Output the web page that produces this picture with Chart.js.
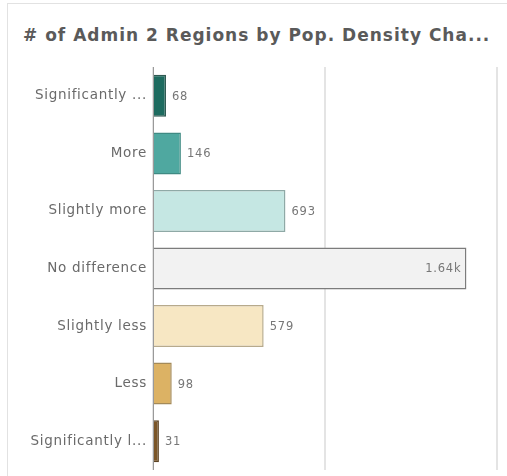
<!DOCTYPE html>
<html>
<head>
<meta charset="utf-8">
<script src="https://cdn.jsdelivr.net/npm/chart.js@4"></script>
<style>
    html, body { margin: 0; padding: 0; background: #fff; overflow: hidden; width: 507px; height: 476px; }
    #card {
        position: absolute;
        left: 7px;
        top: 3px;
        width: 510px;
        height: 490px;
        border-left: 1px solid #e2e2e2;
        border-top: 1px solid #e2e2e2;
    }
    #title {
        position: absolute;
        left: 15px;
        top: 21px;
        font-family: "DejaVu Sans";
        font-weight: bold;
        font-size: 17px;
        letter-spacing: 1px;
        color: #5a5a5a;
        white-space: nowrap;
    }
    #wrap { position: absolute; left: 0; top: 49px; width: 500px; height: 431px; }
</style>
</head>
<body>
<div id="card">
    <div id="title"># of Admin 2 Regions by Pop. Density Cha...</div>
    <div id="wrap"><canvas id="chart"></canvas></div>
</div>
<script>
const categories = ["Significantly ...", "More", "Slightly more", "No difference", "Slightly less", "Less", "Significantly l..."]
const regionCounts = [68, 146, 693, 1640, 579, 98, 31]
const valueLabels = ["68", "146", "693", "1.64k", "579", "98", "31"]
const xTicks = [0, 900, 1800]

const fillColors = ["#1d6b5f", "#4fa8a0", "#c5e7e3", "#f2f2f2", "#f7e7c3", "#dcb264", "#7b5628"]
const edgeColors = ["#2f5a52", "#3f8a83", "#8fa9a6", "#7c7c7c", "#b7aa8c", "#a48a58", "#5c4424"]

// spread the axis text a little, like the original
const spacingPlugin = {
    id: "spacing",
    beforeDraw(chart) { chart.ctx.letterSpacing = "0.7px" },
    afterDraw(chart) { chart.ctx.letterSpacing = "0px" }
}

const valueLabelPlugin = {
    id: "valueLabels",
    afterDatasetsDraw(chart) {
        const ctx = chart.ctx
        const meta = chart.getDatasetMeta(0)
        ctx.save()
        ctx.letterSpacing = "0.8px"
        ctx.font = "11.5px 'DejaVu Sans'"
        ctx.fillStyle = "#777"
        ctx.textBaseline = "middle"
        meta.data.forEach((bar, i) => {
            const label = valueLabels[i]
            const w = ctx.measureText(label).width
            if (bar.x + 6 + w > chart.chartArea.right) {
                ctx.textAlign = "right"
                ctx.fillText(label, bar.x - 5, bar.y + 1)
            } else {
                ctx.textAlign = "left"
                ctx.fillText(label, bar.x + 6, bar.y + 1)
            }
        })
        ctx.restore()
    }
}

new Chart(document.getElementById("chart"), {
    type: "bar",
    data: {
        labels: categories,
        datasets: [
            {
                data: regionCounts,
                backgroundColor: fillColors,
                borderColor: edgeColors,
                borderWidth: 1.5,
                borderSkipped: "start",
                categoryPercentage: 1,
                barPercentage: 0.73
            }
        ]
    },
    options: {
        indexAxis: "y",
        responsive: true,
        maintainAspectRatio: false,
        animation: false,
        layout: { padding: { left: 15, right: 11, top: 6, bottom: 0 } },
        plugins: {
            legend: { display: false },
            tooltip: { enabled: false },
            title: { display: false }
        },
        scales: {
            x: {
                min: 0,
                max: xTicks[xTicks.length - 1],
                afterBuildTicks: scale => { scale.ticks = xTicks.map(v => ({ value: v })) },
                ticks: { display: false },
                border: { display: false },
                grid: { color: "#e4e4e4", lineWidth: 2, drawTicks: false },
                afterFit: scale => { scale.height = 0 }
            },
            y: {
                ticks: {
                    color: "#6a6a6a",
                    font: { family: "'DejaVu Sans'", size: 13.5 },
                    padding: 6
                },
                grid: { display: false, drawTicks: false },
                border: { display: true, color: "#9a9a9a", width: 1 },
                afterFit: scale => { scale.width = 130 }
            }
        }
    },
    plugins: [spacingPlugin, valueLabelPlugin]
})
</script>
</body>
</html>
